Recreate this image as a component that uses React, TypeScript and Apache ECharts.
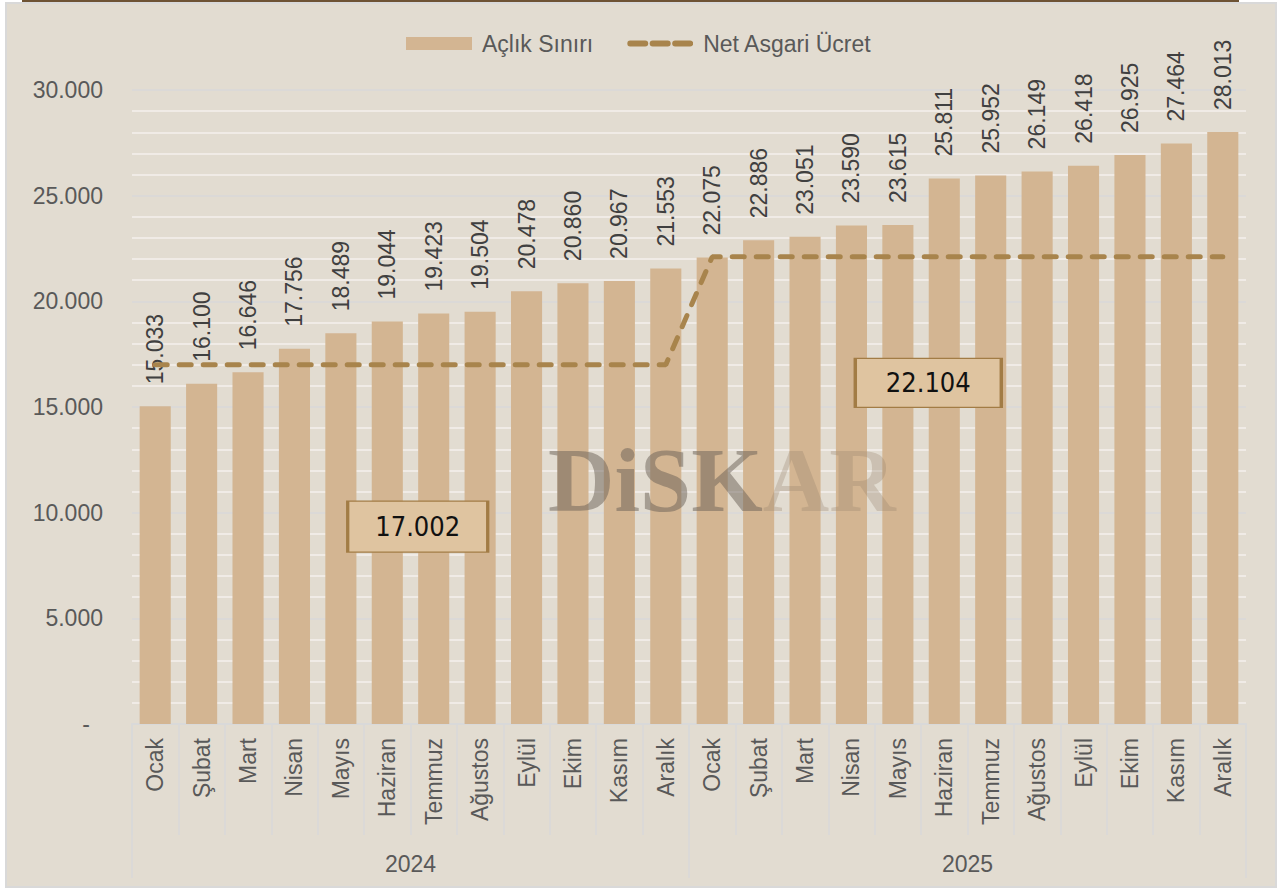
import React, { useEffect, useRef } from "react";
import * as echarts from "echarts";

const months = ["Ocak", "Şubat", "Mart", "Nisan", "Mayıs", "Haziran", "Temmuz", "Ağustos", "Eylül", "Ekim", "Kasım", "Aralık",
  "Ocak", "Şubat", "Mart", "Nisan", "Mayıs", "Haziran", "Temmuz", "Ağustos", "Eylül", "Ekim", "Kasım", "Aralık"];
const years = ["2024", "2025"];
const aclikSiniri = [15033, 16100, 16646, 17756, 18489, 19044, 19423, 19504, 20478, 20860, 20967, 21553,
  22075, 22886, 23051, 23590, 23615, 25811, 25952, 26149, 26418, 26925, 27464, 28013];
const netAsgari = [17002, 17002, 17002, 17002, 17002, 17002, 17002, 17002, 17002, 17002, 17002, 17002,
  22104, 22104, 22104, 22104, 22104, 22104, 22104, 22104, 22104, 22104, 22104, 22104];
const yTicks = [0, 5000, 10000, 15000, 20000, 25000, 30000];
const boxLabels = [
  { index: 6, value: 17002 },
  { index: 17, value: 22104 },
];

const fmt = (v: number) => String(Math.round(v)).replace(/\B(?=(\d{3})+(?!\d))/g, ".");
const FONT = "'Liberation Sans', Arial, sans-serif";
const GREY = "#595959";
const LINE_COLOR = "#a8844c";

const dashIconSvg =
  "<svg xmlns='http://www.w3.org/2000/svg' width='66' height='13' viewBox='0 0 66 13'>" +
  "<g stroke='" + LINE_COLOR + "' stroke-width='6' stroke-linecap='round'>" +
  "<line x1='3' y1='6.5' x2='18' y2='6.5'/><line x1='25.5' y1='6.5' x2='40.5' y2='6.5'/><line x1='48' y1='6.5' x2='63' y2='6.5'/>" +
  "</g></svg>";
const dashIcon = "image://data:image/svg+xml;charset=utf-8," + encodeURIComponent(dashIconSvg);

export default function App() {
  const ref = useRef<HTMLDivElement>(null);
  useEffect(() => {
    if (!ref.current) return;
    const chart = echarts.init(ref.current, null, { renderer: "svg" });
    chart.setOption({
      animation: false,
      backgroundColor: "transparent",
      textStyle: { fontFamily: FONT },
      legend: {
        top: 27,
        left: 401,
        itemWidth: 66,
        itemHeight: 13,
        itemGap: 34,
        textStyle: { color: GREY, fontSize: 23, fontFamily: FONT, padding: [0, 0, 0, 5] },
        data: [
          { name: "Açlık Sınırı", icon: "rect" },
          { name: "Net Asgari Ücret", icon: dashIcon },
        ],
      },
      grid: { left: 132, right: 32, top: 90, bottom: 166 },
      xAxis: [
        {
          type: "category",
          data: months,
          position: "bottom",
          axisLine: { show: true, lineStyle: { color: "#d9d9d9", width: 2 } },
          axisTick: { show: true, interval: 0, length: 111, lineStyle: { color: "#d9d9d9", width: 1.5 } },
          axisLabel: { interval: 0, rotate: 90, margin: 14, color: GREY, fontSize: 23, fontFamily: FONT },
          splitLine: { show: false },
        },
        {
          type: "category",
          data: years,
          position: "bottom",
          axisLine: { show: false },
          axisTick: { show: true, interval: 0, length: 154, lineStyle: { color: "#d9d9d9", width: 1.5 } },
          axisLabel: { interval: 0, margin: 128, color: GREY, fontSize: 23, fontFamily: FONT },
          splitLine: { show: false },
        },
      ],
      yAxis: {
        type: "value",
        min: yTicks[0],
        max: yTicks[yTicks.length - 1],
        interval: yTicks[1] - yTicks[0],
        axisLine: { show: false },
        axisTick: { show: false },
        axisLabel: {
          margin: 29,
          color: GREY,
          fontSize: 23,
          fontFamily: FONT,
          formatter: (v: number) => (v === 0 ? "{d|-}" : fmt(v)),
          rich: { d: { color: GREY, fontSize: 23, fontFamily: FONT, padding: [0, 13, 0, 0] } },
        },
        splitLine: { show: true, lineStyle: { color: "#d9d9d9", width: 1.5 } },
        minorTick: { show: false, splitNumber: 5 },
        minorSplitLine: { show: true, lineStyle: { color: "#f4f1ec", width: 1.5 } },
      },
      series: [
        {
          name: "Açlık Sınırı",
          type: "bar",
          xAxisIndex: 0,
          data: aclikSiniri,
          barCategoryGap: "33%",
          itemStyle: { color: "#d3b592" },
          label: {
            show: true,
            position: "top",
            distance: 22,
            rotate: 90,
            align: "left",
            verticalAlign: "middle",
            color: "#404040",
            fontSize: 23,
            fontFamily: FONT,
            formatter: (p: any) => fmt(p.value),
          },
          z: 2,
        },
        {
          name: "Net Asgari Ücret",
          type: "line",
          xAxisIndex: 0,
          data: netAsgari,
          symbol: "none",
          lineStyle: { color: LINE_COLOR, width: 5, type: [12, 12], cap: "round" },
          itemStyle: { color: LINE_COLOR },
          z: 4,
          markPoint: {
            symbol: "rect",
            data: boxLabels.map((b, i) => ({
              coord: [b.index, b.value],
              value: b.value,
              symbolSize: i === 0 ? [140, 51] : [146, 49],
              symbolOffset: i === 0 ? [-16, 162] : [-16, 126],
            })),
            itemStyle: { color: "#dfc4a0", borderColor: "#a27c45", borderWidth: 2 },
            label: {
              show: true,
              position: "inside",
              color: "#111111",
              fontSize: 27,
              fontFamily: "'Liberation Sans Narrow', 'DejaVu Sans Condensed', Roboto, sans-serif",
              formatter: (p: any) => fmt(p.value),
            },
          },
        },
      ],
      graphic: [
        {
          type: "text",
          left: 548,
          top: 434,
          z: 100,
          style: {
            text: "{a|DiSK}{b|AR}",
            rich: {
              a: { fontSize: 92, fontWeight: "bold", fontFamily: "'Liberation Serif', serif", fill: "rgba(105,95,85,0.5)" },
              b: { fontSize: 92, fontWeight: "bold", fontFamily: "'Liberation Serif', serif", fill: "rgba(150,130,105,0.3)" },
            },
          },
        },
      ],
    });
    return () => chart.dispose();
  }, []);

  return (
    <div style={{ position: "absolute", left: 0, top: 0, width: 1278, height: 890, background: "#ffffff" }}>
      <div style={{ position: "absolute", left: 5, top: 2, width: 1268, height: 882, background: "#e2dcd1", border: "2px solid #d9d9d9" }} />
      <div style={{ position: "absolute", left: 22, top: 0, width: 1217, height: 2, background: "#6e5334" }} />
      <div ref={ref} style={{ position: "absolute", left: 0, top: 0, width: 1278, height: 890 }} />
    </div>
  );
}
